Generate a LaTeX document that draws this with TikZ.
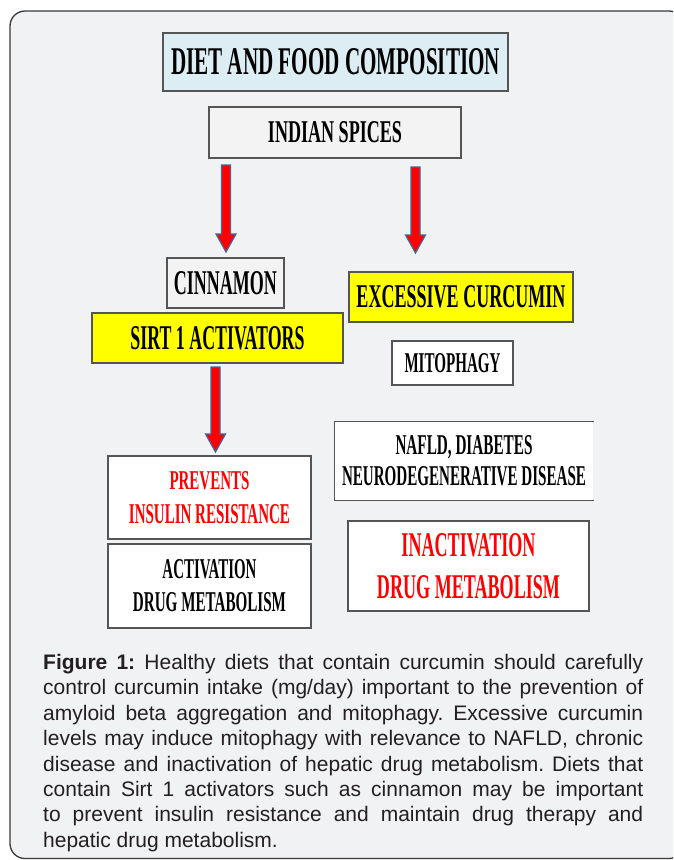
\documentclass[tikz,border=0pt]{standalone}
\usepackage{fontspec}
\setmainfont{Liberation Serif}
\newfontfamily\capfont{Liberation Sans}
\usepackage{graphicx}
\usetikzlibrary{calc}
\frenchspacing
\definecolor{bgcol}{HTML}{F1F2F4}
\definecolor{framegray}{HTML}{3A3A3A}
\definecolor{boxgray}{HTML}{555555}
\definecolor{dietblue}{HTML}{DCEEF4}
\definecolor{spicegray}{HTML}{F3F3F3}
\definecolor{hiyellow}{HTML}{FFFF00}
\definecolor{arrowblue}{HTML}{44679A}
\definecolor{textred}{HTML}{FF0000}
\definecolor{captext}{HTML}{231F20}
\newcommand\fitt[3]{\resizebox{#1pt}{#2pt}{\bfseries #3}}
\newcommand\blockarrow[2]{%
  \path let \p1=(#1), \p2=(#2) in
    [fill=red, draw=arrowblue, line width=1.2pt, line join=miter]
    (\x1-4.5pt,\y1) -- (\x1-4.5pt,\y2+18pt) -- (\x1-10pt,\y2+18pt) --
    (\x2,\y2) -- (\x1+10pt,\y2+18pt) -- (\x1+4.5pt,\y2+18pt) --
    (\x1+4.5pt,\y1) -- cycle;}
\begin{document}
\begin{tikzpicture}[x=1pt,y=-1pt,
  box/.style={draw=boxgray, line width=1.3pt, inner sep=0pt, fill=white},
  twoline/.style={align=center, font={\fontsize{10}{#1}\selectfont\lineskiplimit=-100pt}}]
\useasboundingbox (0,0) rectangle (673,860);
\clip (0,0) rectangle (673,860);
\fill[white] (0,0) rectangle (673,860);
\draw[fill=bgcol, draw=framegray, line width=1.3pt, rounded corners=15pt] (10,11) rectangle (684,858.5);

\node[box, fill=dietblue, minimum width=345pt, minimum height=58pt] (diet) at (335.5,62)
  {\fitt{329}{26}{DIET AND FOOD COMPOSITION}};
\node[box, fill=spicegray, minimum width=252pt, minimum height=51pt] (spices) at (335,132.5)
  {\fitt{134}{21}{INDIAN SPICES}};
\node[box, fill=spicegray, minimum width=117pt, minimum height=50pt] (cinnamon) at (225.5,283)
  {\fitt{103}{23}{CINNAMON}};
\node[box, fill=hiyellow, minimum width=251pt, minimum height=50pt] (sirt) at (217.5,338)
  {\fitt{174}{23}{SIRT 1 ACTIVATORS}};
\node[box, fill=hiyellow, minimum width=224pt, minimum height=50pt] (curcumin) at (461,297)
  {\fitt{209}{22}{EXCESSIVE CURCUMIN}};
\node[box, minimum width=121pt, minimum height=44pt] (mitophagy) at (452.5,363)
  {\fitt{96}{19}{MITOPHAGY}};
\node[box, twoline=34, text=textred, minimum width=203pt, minimum height=83pt] (prevents) at (209.5,497.5)
  {\fitt{80}{18}{PREVENTS}\\\fitt{161}{19}{INSULIN RESISTANCE}};
\node[box, twoline=33, minimum width=203pt, minimum height=84pt] (activation) at (209.5,586)
  {\fitt{94}{19}{ACTIVATION}\\\fitt{153}{19}{DRUG METABOLISM}};
\node[box, draw=none, twoline=31, minimum width=258pt, minimum height=78pt] (nafld) at (464,461)
  {\fitt{137}{19}{NAFLD, DIABETES}\\\fitt{244}{19}{NEURODEGENERATIVE DISEASE}};
\draw[draw=boxgray, line width=1.3pt] (nafld.north east) -- (nafld.north west) -- (nafld.south west) -- (nafld.south east);
\node[box, twoline=42, text=textred, minimum width=241pt, minimum height=90pt] (inactivation) at (468.5,566)
  {\fitt{134}{23}{INACTIVATION}\\\fitt{183}{23}{DRUG METABOLISM}};

\coordinate (a1s) at (226,165);
\coordinate (a1e) at (226,252);
\coordinate (a2s) at (415.5,167);
\coordinate (a2e) at (415.5,253);
\coordinate (a3s) at (215.5,367);
\coordinate (a3e) at (215.5,452);
\blockarrow{a1s}{a1e}
\blockarrow{a2s}{a2e}
\blockarrow{a3s}{a3e}

\node[anchor=north west, inner sep=0pt, text width=600pt, align=justify, text=captext,
  font={\capfont\fontsize{21}{25.4}\selectfont}] (caption) at (43,654)
  {\textbf{Figure 1:} Healthy diets that contain curcumin should carefully\linebreak
   control curcumin intake (mg/day) important to the prevention of\linebreak
   amyloid beta aggregation and mitophagy. Excessive curcumin\linebreak
   levels may induce mitophagy with relevance to NAFLD, chronic\linebreak
   disease and inactivation of hepatic drug metabolism. Diets that\linebreak
   contain Sirt 1 activators such as cinnamon may be important\linebreak
   to prevent insulin resistance and maintain drug therapy and\linebreak
   hepatic drug metabolism.};
\end{tikzpicture}
\end{document}
